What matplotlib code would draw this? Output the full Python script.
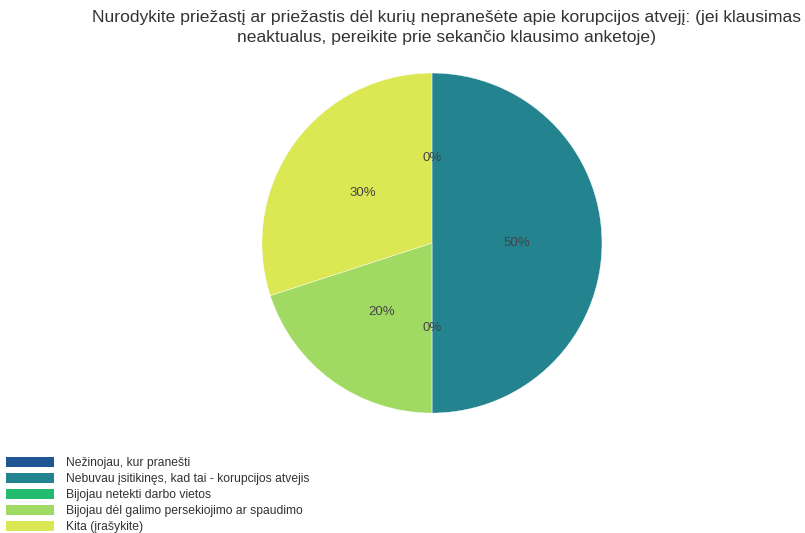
import matplotlib
matplotlib.use("Agg")
import matplotlib.pyplot as plt
from matplotlib.patches import Patch

plt.rcParams['font.family'] = ['Liberation Sans', 'DejaVu Sans']

# duomenys
labels = [
    "Nežinojau, kur pranešti",
    "Nebuvau įsitikinęs, kad tai - korupcijos atvejis",
    "Bijojau netekti darbo vietos",
    "Bijojau dėl galimo persekiojimo ar spaudimo",
    "Kita (įrašykite)",
]
values = [0, 50, 0, 20, 30]
colors = ["#1f5593", "#23838f", "#22bb6f", "#a0da63", "#dbe853"]
title = ("Nurodykite priežastį ar priežastis dėl kurių nepranešėte apie korupcijos atvejį: (jei klausimas\n"
         "neaktualus, pereikite prie sekančio klausimo anketoje)")

fig = plt.figure(figsize=(8.05, 5.33), dpi=100)
ax = fig.add_axes([0.5366 - 0.2112, 0.544 - 0.319, 0.4224, 0.638])

wedges, texts, autotexts = ax.pie(
    values, colors=colors, startangle=90, counterclock=False,
    autopct="%1.0f%%", pctdistance=0.5,
    wedgeprops=dict(linewidth=0.3, edgecolor="white"),
    textprops=dict(color="#444444", fontsize=9.5),
)
ax.set_xlim(-1, 1)
ax.set_ylim(-1, 1)
ax.set_aspect("equal")

fig.text(0.555, 0.982, title, ha="center", va="top", fontsize=12.6, color="#333333",
         linespacing=1.45)

handles = [Patch(facecolor=c, edgecolor="none") for c in colors]
fig.legend(handles, labels, loc="upper left", bbox_to_anchor=(0.008, 0.143),
           frameon=False, fontsize=8.7, handlelength=3.9, handleheight=0.95,
           handletextpad=1.0, labelspacing=0.3, borderpad=0, borderaxespad=0,
           labelcolor="#333333")

fig.savefig("out.png", dpi=100)
